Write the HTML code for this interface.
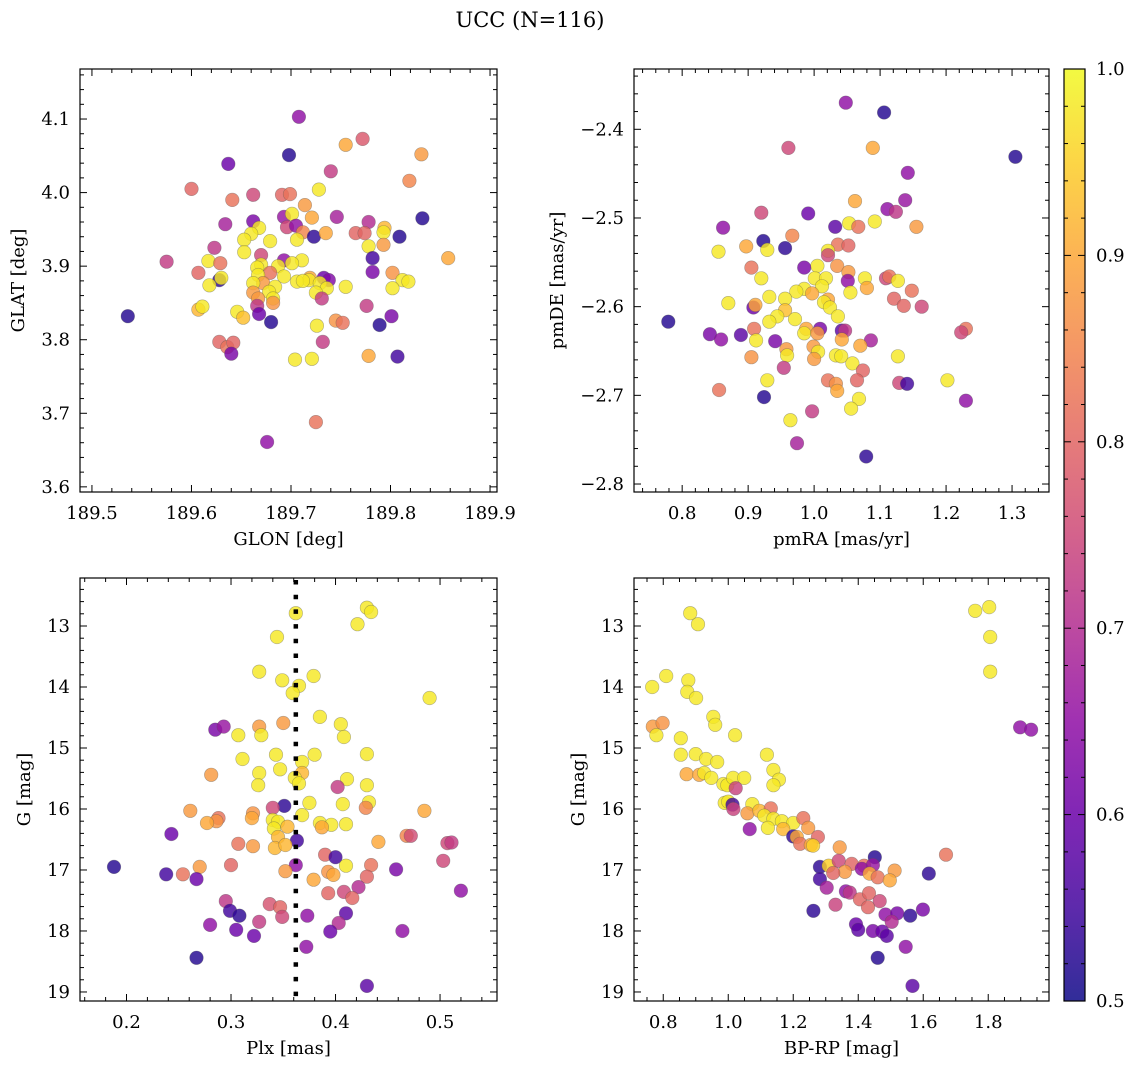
<!DOCTYPE html>
<html><head><meta charset="utf-8">
<style>
html,body{margin:0;padding:0;background:#fff;}
svg{display:block;font-family:"DejaVu Serif","Liberation Serif",serif;}
</style></head>
<body>
<svg id="fig" width="1136" height="1068" viewBox="0 0 1136 1068" xmlns="http://www.w3.org/2000/svg">
<text x="530" y="27" font-size="21" text-anchor="middle">UCC (N=116)</text>
</svg>
<script>
// ---- Panel 1: GLON vs GLAT ----
const p1_glon=[189.708,189.772,189.755,189.698,189.831,189.637,189.740,189.819,189.600,189.641,189.662,189.691,189.699,189.728,189.714,189.721,189.746,189.832,189.634,189.662,189.693,189.701,189.696,189.705,189.712,189.723,189.735,189.778,189.765,189.774,189.794,189.793,189.809,189.778,189.793,189.668,189.660,189.653,189.679,189.706,189.623,189.653,189.670,189.575,189.617,189.629,189.782,189.858,189.693,189.711,189.701,189.687,189.670,189.666,189.782,189.607,189.679,189.693,189.667,189.802,189.628,189.630,189.733,189.738,189.719,189.718,189.706,189.712,189.812,189.818,189.618,189.672,189.662,189.684,189.729,189.755,189.736,189.802,189.662,189.678,189.725,189.667,189.682,189.682,189.731,189.666,189.776,189.607,189.611,189.646,189.652,189.668,189.680,189.536,189.801,189.789,189.745,189.752,189.726,189.628,189.636,189.642,189.640,189.732,189.704,189.721,189.778,189.807,189.725,189.676];
const p1_glat=[4.103,4.073,4.065,4.051,4.052,4.039,4.029,4.016,4.005,3.990,3.997,3.997,3.998,4.004,3.983,3.966,3.967,3.965,3.957,3.961,3.967,3.971,3.953,3.955,3.946,3.940,3.945,3.960,3.945,3.945,3.952,3.946,3.940,3.927,3.929,3.952,3.944,3.936,3.934,3.936,3.925,3.919,3.915,3.906,3.907,3.904,3.911,3.911,3.908,3.908,3.904,3.900,3.902,3.898,3.892,3.891,3.891,3.886,3.888,3.891,3.881,3.884,3.884,3.881,3.884,3.881,3.879,3.880,3.881,3.879,3.874,3.877,3.877,3.872,3.877,3.872,3.870,3.870,3.864,3.865,3.864,3.856,3.856,3.850,3.856,3.846,3.846,3.841,3.845,3.838,3.830,3.835,3.824,3.832,3.832,3.820,3.826,3.823,3.819,3.797,3.790,3.796,3.781,3.797,3.773,3.774,3.778,3.777,3.688,3.661];
const p1_prob=[.65,.78,.9,.52,.88,.6,.73,.85,.8,.82,.75,.8,.82,.98,.88,.9,.68,.52,.68,.62,.66,.98,.75,.65,.85,.53,.9,.7,.8,.8,.92,.98,.52,.98,.88,.98,.98,.98,.98,.98,.72,.98,.75,.73,.98,.82,.55,.9,.65,.98,.98,.98,.98,.98,.62,.8,.82,.98,.98,.87,.53,.98,.6,.63,.9,.98,.98,.98,.98,.98,.98,.88,.98,.98,.98,.98,.98,.98,.88,.98,.98,.88,.98,.87,.73,.72,.73,.92,.98,.98,.93,.6,.52,.52,.62,.52,.87,.82,.98,.8,.82,.8,.62,.73,.98,.98,.9,.55,.82,.65];
const p1_xticks=["189.5","189.6","189.7","189.8","189.9"];
const p1_yticks=["3.6","3.7","3.8","3.9","4.0","4.1"];
// ---- Panel 2: pmRA vs pmDE ----
const p2_pmra=[1.048,1.106,1.305,0.961,1.089,1.142,1.062,1.138,1.111,1.124,0.920,0.991,0.862,1.032,1.053,1.067,1.092,1.155,0.967,0.923,0.929,0.956,0.897,0.855,1.036,1.052,1.021,1.021,1.005,1.035,0.985,0.905,1.052,1.001,1.018,0.920,1.051,1.077,1.080,1.109,1.114,1.127,1.012,0.985,0.973,0.997,1.055,1.148,0.932,0.956,0.870,1.021,1.015,1.121,1.136,1.163,0.908,0.911,0.956,1.024,0.944,1.036,0.932,0.971,0.779,1.009,0.988,0.909,1.042,1.047,1.230,1.223,0.842,0.889,0.985,1.005,0.859,0.912,0.941,1.042,1.086,1.070,0.999,0.958,1.006,0.959,1.033,1.041,1.000,1.127,0.905,1.058,0.954,1.074,0.929,1.021,1.033,1.065,1.129,1.141,1.202,0.856,1.035,0.924,1.230,1.068,1.056,0.997,0.964,0.974,1.079];
const p2_pmde=[-2.370,-2.381,-2.431,-2.421,-2.421,-2.449,-2.481,-2.480,-2.490,-2.493,-2.494,-2.495,-2.511,-2.510,-2.506,-2.510,-2.504,-2.510,-2.520,-2.526,-2.536,-2.534,-2.532,-2.538,-2.530,-2.531,-2.537,-2.542,-2.554,-2.554,-2.556,-2.556,-2.561,-2.568,-2.568,-2.568,-2.571,-2.568,-2.579,-2.568,-2.566,-2.571,-2.577,-2.580,-2.583,-2.585,-2.584,-2.582,-2.589,-2.591,-2.596,-2.592,-2.595,-2.591,-2.599,-2.600,-2.601,-2.598,-2.604,-2.601,-2.611,-2.611,-2.617,-2.614,-2.617,-2.625,-2.625,-2.625,-2.627,-2.627,-2.625,-2.629,-2.631,-2.632,-2.630,-2.630,-2.637,-2.638,-2.639,-2.637,-2.638,-2.644,-2.645,-2.648,-2.651,-2.655,-2.655,-2.656,-2.659,-2.656,-2.657,-2.664,-2.669,-2.672,-2.683,-2.683,-2.687,-2.683,-2.686,-2.687,-2.683,-2.694,-2.695,-2.702,-2.706,-2.704,-2.715,-2.718,-2.728,-2.754,-2.769];
const p2_prob=[.65,.52,.52,.75,.9,.65,.9,.66,.65,.72,.75,.6,.65,.58,.98,.82,.98,.88,.85,.52,.98,.53,.9,.98,.82,.8,.98,.75,.98,.87,.62,.82,.88,.98,.98,.98,.65,.98,.9,.75,.82,.98,.98,.98,.98,.9,.98,.82,.98,.98,.98,.9,.98,.8,.8,.75,.6,.9,.93,.98,.98,.98,.98,.98,.52,.62,.9,.82,.58,.72,.82,.75,.62,.58,.98,.88,.65,.98,.62,.9,.68,.9,.88,.88,.98,.98,.98,.98,.88,.98,.87,.98,.73,.8,.98,.82,.87,.8,.75,.55,.98,.82,.9,.52,.65,.98,.98,.73,.98,.68,.53];
const p2_xticks=["0.8","0.9","1.0","1.1","1.2","1.3"];
const p2_yticks=["−2.8","−2.7","−2.6","−2.5","−2.4"];
// ---- Panel 3: Plx vs G ----
const p3_plx=[0.362,0.430,0.434,0.421,0.344,0.327,0.349,0.379,0.365,0.359,0.490,0.385,0.405,0.408,0.350,0.327,0.329,0.307,0.285,0.293,0.343,0.380,0.430,0.311,0.368,0.347,0.327,0.368,0.361,0.281,0.326,0.365,0.411,0.430,0.402,0.351,0.340,0.375,0.407,0.432,0.429,0.261,0.485,0.321,0.320,0.288,0.286,0.277,0.340,0.345,0.354,0.368,0.385,0.396,0.410,0.387,0.341,0.243,0.468,0.472,0.345,0.363,0.507,0.511,0.441,0.307,0.321,0.342,0.352,0.390,0.400,0.300,0.270,0.362,0.410,0.434,0.188,0.503,0.458,0.238,0.254,0.352,0.393,0.398,0.267,0.430,0.379,0.520,0.422,0.408,0.393,0.416,0.295,0.337,0.347,0.299,0.308,0.349,0.373,0.410,0.327,0.403,0.280,0.305,0.395,0.464,0.322,0.372,0.267,0.430];
const p3_g=[12.79,12.70,12.77,12.97,13.18,13.75,13.89,13.82,13.98,14.10,14.18,14.49,14.61,14.82,14.59,14.65,14.79,14.79,14.70,14.65,15.11,15.11,15.10,15.18,15.23,15.35,15.41,15.41,15.49,15.44,15.61,15.58,15.51,15.61,15.64,15.95,15.98,15.90,15.92,15.89,15.98,16.03,16.03,16.07,16.15,16.15,16.20,16.23,16.18,16.21,16.29,16.10,16.23,16.26,16.25,16.30,16.32,16.41,16.44,16.44,16.46,16.52,16.56,16.55,16.54,16.57,16.61,16.64,16.59,16.75,16.79,16.92,16.95,16.92,16.93,16.92,16.95,16.85,16.99,17.07,17.07,17.02,17.03,17.08,17.15,17.11,17.16,17.34,17.28,17.36,17.38,17.46,17.51,17.56,17.61,17.67,17.75,17.77,17.75,17.71,17.85,17.87,17.90,17.98,18.01,18.00,18.08,18.26,18.44,18.90];
const p3_prob=[.98,.98,.98,.98,.98,.98,.98,.98,.98,.98,.98,.98,.98,.98,.88,.88,.98,.98,.62,.66,.98,.98,.98,.98,.98,.98,.98,.92,.98,.88,.98,.98,.98,.98,.73,.53,.75,.98,.98,.98,.85,.88,.9,.87,.9,.82,.87,.9,.98,.98,.92,.98,.98,.98,.98,.9,.98,.6,.85,.76,.92,.55,.75,.73,.9,.82,.88,.92,.92,.8,.55,.8,.88,.65,.98,.82,.52,.75,.62,.55,.82,.88,.87,.9,.6,.8,.9,.65,.7,.75,.8,.8,.72,.77,.8,.55,.53,.75,.65,.58,.73,.7,.65,.6,.6,.65,.6,.65,.52,.58];
const p3_plx_ref=[0.362];
const p3_xticks=["0.2","0.3","0.4","0.5"];
const g_yticks=["13","14","15","16","17","18","19"];
// ---- Panel 4: BP-RP vs G ----
const p4_bprp=[0.883,0.907,0.809,0.766,0.877,0.874,0.901,0.954,0.960,0.768,0.798,0.779,1.021,0.854,0.854,0.900,0.932,0.966,1.119,1.139,1.156,1.139,0.872,0.911,0.926,0.948,0.985,0.997,1.015,1.049,1.023,0.989,1.000,1.013,1.016,1.074,1.059,1.096,1.131,1.111,1.139,1.165,1.200,1.231,1.246,1.122,1.169,1.066,1.200,1.211,1.276,1.221,1.254,1.261,1.343,1.670,1.451,1.282,1.309,1.340,1.380,1.359,1.323,1.418,1.411,1.445,1.435,1.460,1.512,1.497,1.617,1.282,1.303,1.362,1.374,1.405,1.433,1.466,1.430,1.330,1.262,1.484,1.520,1.560,1.599,1.503,1.393,1.400,1.445,1.474,1.488,1.546,1.460,1.567,1.898,1.932,1.760,1.803,1.806,1.806];
const p4_g=[12.79,12.97,13.82,14.00,13.89,14.08,14.18,14.49,14.62,14.65,14.59,14.79,14.79,14.84,15.11,15.10,15.18,15.23,15.11,15.36,15.52,15.61,15.43,15.44,15.41,15.49,15.59,15.61,15.49,15.49,15.66,15.90,15.88,15.93,16.00,15.92,16.07,16.03,15.99,16.11,16.16,16.20,16.23,16.15,16.31,16.31,16.33,16.33,16.45,16.46,16.46,16.57,16.59,16.60,16.63,16.75,16.79,16.95,16.93,16.85,16.90,17.03,17.05,16.93,16.98,16.92,17.06,17.12,17.01,17.17,17.06,17.15,17.29,17.35,17.37,17.48,17.38,17.51,17.61,17.57,17.67,17.73,17.71,17.75,17.65,17.85,17.89,17.98,18.00,18.01,18.08,18.26,18.44,18.90,14.66,14.70,12.75,12.69,13.18,13.75];
const p4_prob=[.98,.98,.98,.98,.98,.98,.98,.98,.98,.88,.87,.98,.98,.98,.98,.98,.98,.98,.98,.98,.98,.98,.9,.9,.98,.98,.98,.98,.98,.98,.74,.98,.98,.55,.74,.98,.88,.92,.82,.98,.98,.98,.98,.82,.88,.98,.92,.65,.53,.9,.8,.82,.9,.95,.88,.82,.52,.53,.95,.75,.8,.88,.8,.82,.65,.66,.9,.82,.88,.9,.53,.55,.68,.65,.72,.8,.8,.75,.8,.74,.53,.65,.62,.53,.62,.7,.6,.58,.62,.6,.58,.65,.52,.58,.65,.65,.98,.98,.98,.98];
const p4_xticks=["0.8","1.0","1.2","1.4","1.6","1.8"];
const cbar_ticks=["0.5","0.6","0.7","0.8","0.9","1.0"];

const NS="http://www.w3.org/2000/svg";
const svg=document.getElementById('fig');
function mk(tag,attrs,parent){const e=document.createElementNS(NS,tag);for(const k in attrs)e.setAttribute(k,attrs[k]);(parent||svg).appendChild(e);return e;}
const stops=[[0,13,8,135],[.1,65,4,157],[.2,106,0,168],[.3,143,13,164],[.4,177,42,144],[.5,204,71,120],[.6,225,100,98],[.7,242,132,75],[.8,252,166,54],[.9,252,206,37],[1,240,249,33]];
function plasma(t){t=Math.max(0,Math.min(1,t));for(let i=1;i<stops.length;i++){if(t<=stops[i][0]){const a=stops[i-1],b=stops[i],f=(t-a[0])/(b[0]-a[0]);return `rgb(${Math.round(a[1]+f*(b[1]-a[1]))},${Math.round(a[2]+f*(b[2]-a[2]))},${Math.round(a[3]+f*(b[3]-a[3]))})`;}}return 'rgb(240,249,33)';}
function cmap(p){return plasma((p-0.5)/0.5);}
const TICKFS=18, TITLEFS=18;

function panel(o){
  const g=mk('g',{});
  
  
  const sx=v=>o.x0+(v-o.xmin)/(o.xmax-o.xmin)*(o.x1-o.x0);
  const sy=o.yinv?(v=>o.y0+(v-o.ymin)/(o.ymax-o.ymin)*(o.y1-o.y0)):(v=>o.y1-(v-o.ymin)/(o.ymax-o.ymin)*(o.y1-o.y0));
  const pg=mk('g',{},g);
  
  
  const n=Math.min(o.xs.length,o.ys.length,o.ps.length);
  for(let i=0;i<n;i++){
    const c=mk('circle',{cx:sx(o.xs[i]).toFixed(1),cy:sy(o.ys[i]).toFixed(1),r:6.8,fill:cmap(o.ps[i]),'fill-opacity':0.82,stroke:'#555','stroke-opacity':0.45,'stroke-width':0.6},pg);
    
    
  }
  if(o.extra)o.extra(g,sx,sy);
  const fr=mk('rect',{x:o.x0,y:o.y0,width:o.x1-o.x0,height:o.y1-o.y0,fill:'none',stroke:'#000','stroke-width':1.2},g);
  
  
  const tg=mk('g',{stroke:'#000','stroke-width':1},g);
  const eps=1e-9;
  for(let v=Math.ceil(o.xmin/o.xminor-eps)*o.xminor;v<=o.xmax+eps;v+=o.xminor){
    const X=sx(v);const maj=Math.abs(v/o.xmajor-Math.round(v/o.xmajor))<1e-6;const L=maj?7:4;
    mk('line',{x1:X,x2:X,y1:o.y1,y2:o.y1-L},tg);mk('line',{x1:X,x2:X,y1:o.y0,y2:o.y0+L},tg);
  }
  for(let v=Math.ceil(Math.min(o.ymin,o.ymax)/o.yminor-eps)*o.yminor;v<=Math.max(o.ymin,o.ymax)+eps;v+=o.yminor){
    const Y=sy(v);const maj=Math.abs(v/o.ymajor-Math.round(v/o.ymajor))<1e-6;const L=maj?7:4;
    mk('line',{y1:Y,y2:Y,x1:o.x0,x2:o.x0+L},tg);mk('line',{y1:Y,y2:Y,x1:o.x1,x2:o.x1-L},tg);
  }
  o.xlabels.forEach(s=>{const v=parseFloat(s.replace('−','-'));const t=mk('text',{x:sx(v),y:o.y1+27,'font-size':TICKFS,'text-anchor':'middle'},g);t.textContent=s;
    });
  o.ylabels.forEach(s=>{const v=parseFloat(s.replace('−','-'));const t=mk('text',{x:o.x0-10,y:sy(v)+6,'font-size':TICKFS,'text-anchor':'end'},g);t.textContent=s;
    });
  const xt=mk('text',{x:(o.x0+o.x1)/2,y:o.y1+53,'font-size':TITLEFS,'text-anchor':'middle'},g);xt.textContent=o.xtitle;
  
  const cy=(o.y0+o.y1)/2;const yt=mk('text',{x:o.ytx,y:cy,'font-size':TITLEFS,'text-anchor':'middle',transform:`rotate(-90 ${o.ytx} ${cy})`},g);yt.textContent=o.ytitle;
  
}

panel({name:'glon-glat-panel',x0:80,x1:497,y0:69,y1:492,xmin:189.488,xmax:189.907,ymin:3.593,ymax:4.168,xmajor:0.1,xminor:0.02,ymajor:0.1,yminor:0.02,
  xs:p1_glon,ys:p1_glat,ps:p1_prob,xlabels:p1_xticks,ylabels:p1_yticks,xtitle:'GLON [deg]',ytitle:'GLAT [deg]',ytx:24});
panel({name:'pm-panel',x0:634,x1:1049,y0:69,y1:492,xmin:0.727,xmax:1.356,ymin:-2.809,ymax:-2.332,xmajor:0.1,xminor:0.02,ymajor:0.1,yminor:0.02,
  xs:p2_pmra,ys:p2_pmde,ps:p2_prob,xlabels:p2_xticks,ylabels:p2_yticks,xtitle:'pmRA [mas/yr]',ytitle:'pmDE [mas/yr]',ytx:563});
panel({name:'plx-g-panel',x0:80,x1:497,y0:578,y1:1001,xmin:0.1555,xmax:0.5545,ymin:12.213,ymax:19.148,yinv:true,xmajor:0.1,xminor:0.02,ymajor:1,yminor:0.2,
  xs:p3_plx,ys:p3_g,ps:p3_prob,xlabels:p3_xticks,ylabels:g_yticks,xtitle:'Plx [mas]',ytitle:'G [mag]',ytx:30,
  extra:(g,sx,sy)=>{p3_plx_ref.forEach(v=>{const l=mk('line',{x1:sx(v),x2:sx(v),y1:580,y2:1001,stroke:'#000','stroke-width':4.5,'stroke-dasharray':'4.5 10.2'},g);
    });}});
panel({name:'cmd-panel',x0:634,x1:1049,y0:578,y1:1001,xmin:0.710,xmax:1.987,ymin:12.213,ymax:19.148,yinv:true,xmajor:0.2,xminor:0.05,ymajor:1,yminor:0.2,
  xs:p4_bprp,ys:p4_g,ps:p4_prob,xlabels:p4_xticks,ylabels:g_yticks,xtitle:'BP-RP [mag]',ytitle:'G [mag]',ytx:584});

const cb=mk('g',{});


const defs=mk('defs',{},cb);
const lg=mk('linearGradient',{id:'cbg',x1:0,y1:1,x2:0,y2:0},defs);
for(let i=0;i<=20;i++){mk('stop',{offset:i/20,'stop-color':plasma(i/20),'stop-opacity':0.85},lg);}
const cy0=69,cy1=1001,cx0=1064,cx1=1085;
mk('rect',{x:cx0,y:cy0,width:cx1-cx0,height:cy1-cy0,fill:'url(#cbg)',stroke:'#000','stroke-width':1.2},cb);
const cby=v=>cy1-(v-0.5)/0.5*(cy1-cy0);
for(let k=0;k<=25;k++){const v=0.5+k*0.02;const Y=cby(v);const maj=k%5===0;
  mk('line',{x1:cx1,x2:cx1-(maj?7:4),y1:Y,y2:Y,stroke:'#000','stroke-width':1},cb);
  mk('line',{x1:cx0,x2:cx0+(maj?7:4),y1:Y,y2:Y,stroke:'#000','stroke-width':1},cb);}
cbar_ticks.forEach(s=>{const t=mk('text',{x:1096,y:cby(parseFloat(s))+6,'font-size':TICKFS},cb);t.textContent=s;
  });
</script>
</body></html>
